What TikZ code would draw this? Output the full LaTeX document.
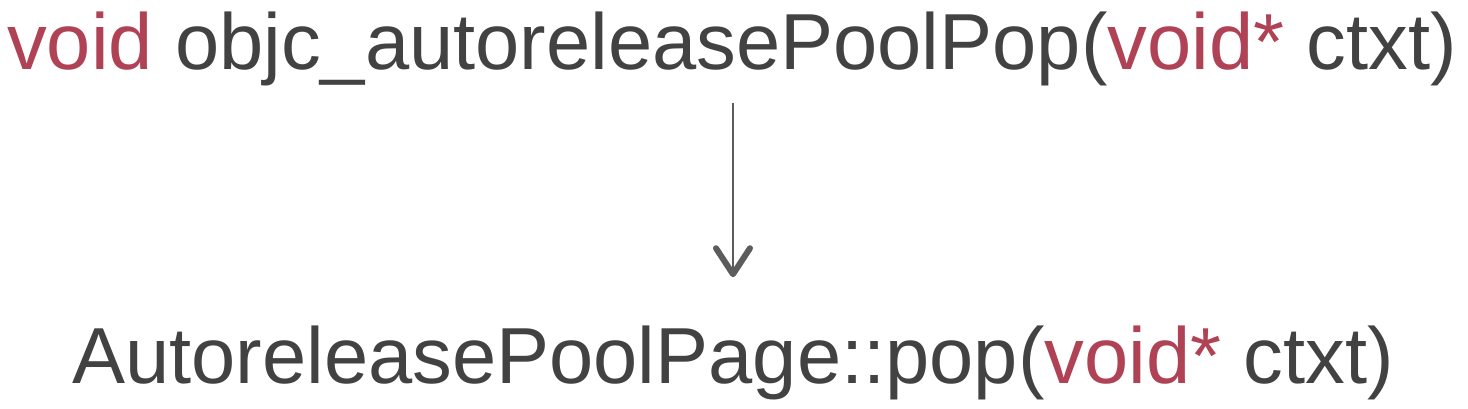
\documentclass[tikz,border=0pt]{standalone}
\usepackage{fontspec}
\setmainfont{Liberation Sans}
\usetikzlibrary{arrows.meta}
\definecolor{kwred}{RGB}{176,66,86}
\definecolor{txtgray}{RGB}{66,66,66}
\definecolor{arrgray}{RGB}{92,92,92}
\newcommand{\kw}[1]{\textcolor{kwred}{#1}}
\begin{document}
\begin{tikzpicture}[x=1pt, y=1pt,
    every node/.style={font=\fontsize{79.5}{90}\selectfont, text=txtgray, inner sep=0pt, anchor=base},
    callarrow/.style={draw=arrgray, line width=2pt,
      -{Straight Barb[length=26pt, width=34pt, line width=6pt 0, round]}}]
  \useasboundingbox (0,0) rectangle (1468,408);
  \node (popfn) at (732,338) {\kw{void} objc\_autoreleasePoolPop(\kw{void*} ctxt)};
  \node (pagepop) at (733,25) {AutoreleasePoolPage::pop(\kw{void*} ctxt)};
  \draw[callarrow, shorten <=16pt, shorten >=48pt] (popfn.south -| 733,0) -- (pagepop.north -| 733,0);
\end{tikzpicture}
\end{document}
